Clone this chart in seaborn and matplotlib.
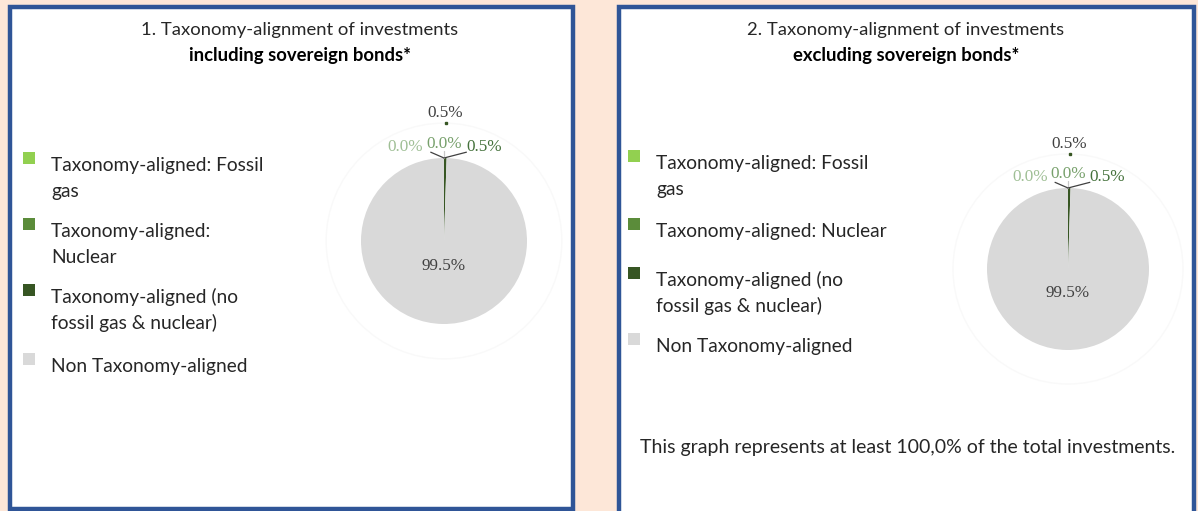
import numpy as np
import matplotlib
matplotlib.use("Agg")
import matplotlib.pyplot as plt
import seaborn as sns
from matplotlib.patches import Rectangle, Circle

sns.set_style("white")
plt.rcParams['font.family'] = ['Lato', 'DejaVu Sans']

# data
categories = ['Taxonomy-aligned: Fossil gas', 'Taxonomy-aligned: Nuclear',
              'Taxonomy-aligned (no fossil gas & nuclear)', 'Non Taxonomy-aligned']
incl_values = [0.0, 0.0, 0.5, 99.5]
excl_values = [0.0, 0.0, 0.5, 99.5]
slice_colors = ['#92d050', '#5b8c3a', '#375623', '#d9d9d9']
label_colors = ['#9fbf95', '#77a06b', '#44713b', '#404040']
titles = ['1. Taxonomy-alignment of investments', '2. Taxonomy-alignment of investments']
subtitles = ['including sovereign bonds*', 'excluding sovereign bonds*']
legend_left = [['Taxonomy-aligned: Fossil', 'gas'], ['Taxonomy-aligned:', 'Nuclear'],
               ['Taxonomy-aligned (no', 'fossil gas & nuclear)'], ['Non Taxonomy-aligned']]
legend_right = [['Taxonomy-aligned: Fossil', 'gas'], ['Taxonomy-aligned: Nuclear'],
                ['Taxonomy-aligned (no', 'fossil gas & nuclear)'], ['Non Taxonomy-aligned']]
footnote = 'This graph represents at least 100,0% of the total investments.'

W, H = 1198, 511
fig = plt.figure(figsize=(W / 100, H / 100), dpi=100)
fig.patch.set_facecolor('#fde7d8')


def fx(x):
    return x / W


def fy(y):
    return 1 - y / H


border = '#2f5597'
# panel boxes (pixel coords: left, top, right, bottom)
for (l, t, r, b) in [(10, 7, 573, 509), (619, 7, 1194, 520)]:
    fig.patches.append(Rectangle((fx(l), fy(b)), fx(r - l), (b - t) / H,
                                 transform=fig.transFigure, facecolor='white',
                                 edgecolor=border, linewidth=3.2, zorder=-5))


def draw_pie(values, cx, cy, rpx):
    half = 1.8
    size = 2 * half * rpx
    ax = fig.add_axes([fx(cx - size / 2), fy(cy + size / 2), size / W, size / H])
    ax.pie(values, colors=slice_colors, startangle=90, counterclock=False,
           radius=1.0, wedgeprops=dict(linewidth=0))
    ax.set_xlim(-half, half)
    ax.set_ylim(-half, half)
    ax.set_aspect('equal')
    ax.axis('off')
    # faint outer ring
    ax.add_patch(Circle((0, 0), 1.42, facecolor='none', edgecolor='#f9f9f9', lw=1.0))
    lbls = [f'{v:.1f}%' for v in values]
    pos = [(-0.47, 1.13), (0.0, 1.17), (0.48, 1.13)]
    ends = [(-0.16, 1.07), (0.0, 1.09), (0.27, 1.07)]
    lc = ['#404040', '#c8c8c8', '#404040']
    for i in range(3):
        ax.plot([0, ends[i][0]], [1.0, ends[i][1]], color=lc[i], lw=0.9)
        ax.text(pos[i][0], pos[i][1], lbls[i], color=label_colors[i],
                family='Liberation Serif', fontsize=12.3, ha='center', va='center')
    ax.text(0.02, 1.54, lbls[2], color='#404040', family='Liberation Serif',
            fontsize=12.3, ha='center', va='center')
    ax.plot([0.02], [1.42], marker='s', ms=1.8, color=slice_colors[2])
    ax.text(0, -0.3, lbls[3], color=label_colors[3], family='Liberation Serif',
            fontsize=12.3, ha='center', va='center')
    return ax


draw_pie(incl_values, 444, 241, 83)
draw_pie(excl_values, 1068, 269, 81)


def draw_legend(entries, x_sq, x_txt, baselines):
    for i, lines in enumerate(entries):
        b = baselines[i]
        fig.patches.append(Rectangle((fx(x_sq), fy(b - 7)), 12 / W, 12 / H,
                                     transform=fig.transFigure,
                                     facecolor=slice_colors[i], edgecolor='none'))
        for k, line in enumerate(lines):
            fig.text(fx(x_txt), fy(b + 26 * k), line, fontsize=13.8, color='#262626',
                     ha='left', va='baseline')


draw_legend(legend_left, 23, 51, [171, 237, 303, 372])
draw_legend(legend_right, 628, 656, [169, 237, 286, 352])

for cx, t, s in [(300, titles[0], subtitles[0]), (906, titles[1], subtitles[1])]:
    fig.text(fx(cx), fy(30), t, fontsize=13.3, color='#262626', ha='center', va='center')
    fig.text(fx(cx), fy(56), s, fontsize=13.3, color='black', fontweight='bold',
             ha='center', va='center')

fig.text(fx(908), fy(448), footnote, fontsize=14, color='#262626', ha='center', va='center')

fig.savefig('out.png', dpi=100, facecolor=fig.get_facecolor())
